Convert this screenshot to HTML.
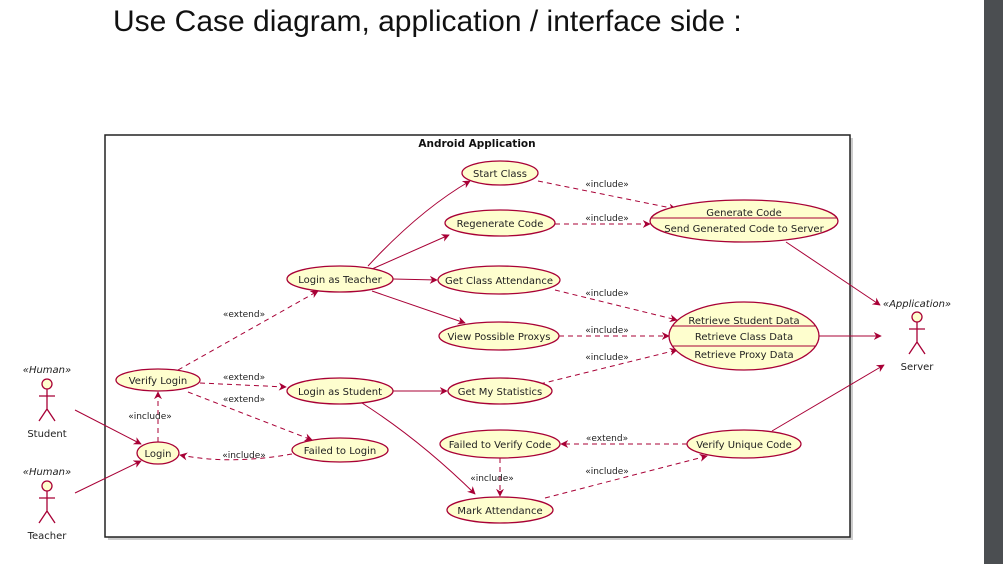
<!DOCTYPE html>
<html><head><meta charset="utf-8"><style>
body{margin:0;background:#fff;width:1003px;height:564px;overflow:hidden;}
svg text{font-family:"DejaVu Sans","Liberation Sans",sans-serif;}
</style></head><body>
<svg width="1003" height="564" xmlns="http://www.w3.org/2000/svg">
<defs>
<marker id="a" viewBox="0 0 10 10" refX="9" refY="5" markerWidth="8" markerHeight="8" orient="auto"><path d="M0,0 L10,5 L0,10 L3,5 Z" fill="#a80036"/></marker>
</defs>
<rect x="984" y="0" width="19" height="564" fill="#4b4e51"/>
<text x="113" y="31" font-size="30" style="font-family:'Liberation Sans',sans-serif" fill="#111">Use Case diagram, application / interface side :</text>
<rect x="108" y="138" width="745" height="402" fill="#ccc"/>
<rect x="105" y="135" width="745" height="402" fill="#fff" stroke="#222" stroke-width="1.5"/>
<text x="477" y="147" font-size="10.5" font-weight="bold" text-anchor="middle" fill="#111">Android Application</text>
<g fill="none" stroke="#a80036" stroke-width="1">
<path d="M368,266 Q420,210 470,181" marker-end="url(#a)"/>
<path d="M372,269 L449,235" marker-end="url(#a)"/>
<path d="M393,279 L437,280" marker-end="url(#a)"/>
<path d="M372,291 L465,323" marker-end="url(#a)"/>
<path d="M393,391 L447,391" marker-end="url(#a)"/>
<path d="M362,403 Q420,440 475,494" marker-end="url(#a)"/>
<path d="M75,410 L141,444" marker-end="url(#a)"/>
<path d="M75,493 L141,461" marker-end="url(#a)"/>
<path d="M786,242 L880,305" marker-end="url(#a)"/>
<path d="M819,336 L881,336" marker-end="url(#a)"/>
<path d="M772,431 L884,365" marker-end="url(#a)"/>
</g>
<g fill="none" stroke="#a80036" stroke-width="1" stroke-dasharray="5,4">
<path d="M178,370 L318,291" marker-end="url(#a)"/>
<path d="M200,383 L286,387" marker-end="url(#a)"/>
<path d="M188,392 L312,440" marker-end="url(#a)"/>
<path d="M158,442 L158,392" marker-end="url(#a)"/>
<path d="M292,454 Q230,465 180,455" marker-end="url(#a)"/>
<path d="M538,181 L676,209" marker-end="url(#a)"/>
<path d="M555,224 L650,224" marker-end="url(#a)"/>
<path d="M555,290 L677,320" marker-end="url(#a)"/>
<path d="M559,336 L669,336" marker-end="url(#a)"/>
<path d="M540,384 L677,350" marker-end="url(#a)"/>
<path d="M687,444 L561,444" marker-end="url(#a)"/>
<path d="M500,458 L500,496" marker-end="url(#a)"/>
<path d="M545,498 L707,456" marker-end="url(#a)"/>
</g>
<g font-size="9" fill="#222" text-anchor="middle">
<text x="244" y="317">«extend»</text>
<text x="244" y="380">«extend»</text>
<text x="244" y="402">«extend»</text>
<text x="150" y="419">«include»</text>
<text x="244" y="458">«include»</text>
<text x="607" y="187">«include»</text>
<text x="607" y="221">«include»</text>
<text x="607" y="296">«include»</text>
<text x="607" y="333">«include»</text>
<text x="607" y="360">«include»</text>
<text x="607" y="441">«extend»</text>
<text x="492" y="481">«include»</text>
<text x="607" y="474">«include»</text>
</g>
<g fill="#fefece" stroke="#a80036" stroke-width="1.3">
<ellipse cx="500" cy="173" rx="38" ry="12"/>
<ellipse cx="500" cy="223" rx="55" ry="13"/>
<ellipse cx="340" cy="279" rx="53" ry="13"/>
<ellipse cx="499" cy="280" rx="61" ry="14"/>
<ellipse cx="499" cy="336" rx="60" ry="14"/>
<ellipse cx="158" cy="380" rx="42" ry="11"/>
<ellipse cx="340" cy="391" rx="53" ry="13"/>
<ellipse cx="500" cy="391" rx="52" ry="13"/>
<ellipse cx="340" cy="450" rx="48" ry="12"/>
<ellipse cx="158" cy="453" rx="21" ry="11"/>
<ellipse cx="500" cy="444" rx="60" ry="14"/>
<ellipse cx="500" cy="510" rx="53" ry="13"/>
<ellipse cx="744" cy="221" rx="94" ry="21"/>
<ellipse cx="744" cy="336" rx="75" ry="34"/>
<ellipse cx="744" cy="444" rx="57" ry="14"/>
</g>
<g stroke="#a80036" stroke-width="1">
<line x1="651" y1="218" x2="837" y2="218"/>
<line x1="672" y1="326" x2="816" y2="326"/>
<line x1="672" y1="346" x2="816" y2="346"/>
</g>
<g font-size="10" fill="#222" text-anchor="middle">
<text x="500" y="177">Start Class</text>
<text x="500" y="227">Regenerate Code</text>
<text x="340" y="283">Login as Teacher</text>
<text x="499" y="284">Get Class Attendance</text>
<text x="499" y="340">View Possible Proxys</text>
<text x="158" y="384">Verify Login</text>
<text x="340" y="395">Login as Student</text>
<text x="500" y="395">Get My Statistics</text>
<text x="340" y="454">Failed to Login</text>
<text x="158" y="457">Login</text>
<text x="500" y="448">Failed to Verify Code</text>
<text x="500" y="514">Mark Attendance</text>
<text x="744" y="216">Generate Code</text>
<text x="744" y="232">Send Generated Code to Server</text>
<text x="744" y="324">Retrieve Student Data</text>
<text x="744" y="340">Retrieve Class Data</text>
<text x="744" y="358">Retrieve Proxy Data</text>
<text x="744" y="448">Verify Unique Code</text>
</g>
<g fill="#fefece" stroke="#a80036" stroke-width="1.3">
<circle cx="47" cy="384" r="5"/>
<path d="M47,389 V409 M39,396 H55 M47,409 L39,421 M47,409 L55,421" fill="none"/>
<circle cx="47" cy="486" r="5"/>
<path d="M47,491 V511 M39,498 H55 M47,511 L39,523 M47,511 L55,523" fill="none"/>
<circle cx="917" cy="317" r="5"/>
<path d="M917,322 V342 M909,329 H925 M917,342 L909,354 M917,342 L925,354" fill="none"/>
</g>
<g font-size="10" fill="#222" text-anchor="middle">
<text x="47" y="373" font-style="italic">«Human»</text>
<text x="47" y="437">Student</text>
<text x="47" y="475" font-style="italic">«Human»</text>
<text x="47" y="539">Teacher</text>
<text x="917" y="307" font-style="italic">«Application»</text>
<text x="917" y="370">Server</text>
</g>
</svg>
</body></html>
